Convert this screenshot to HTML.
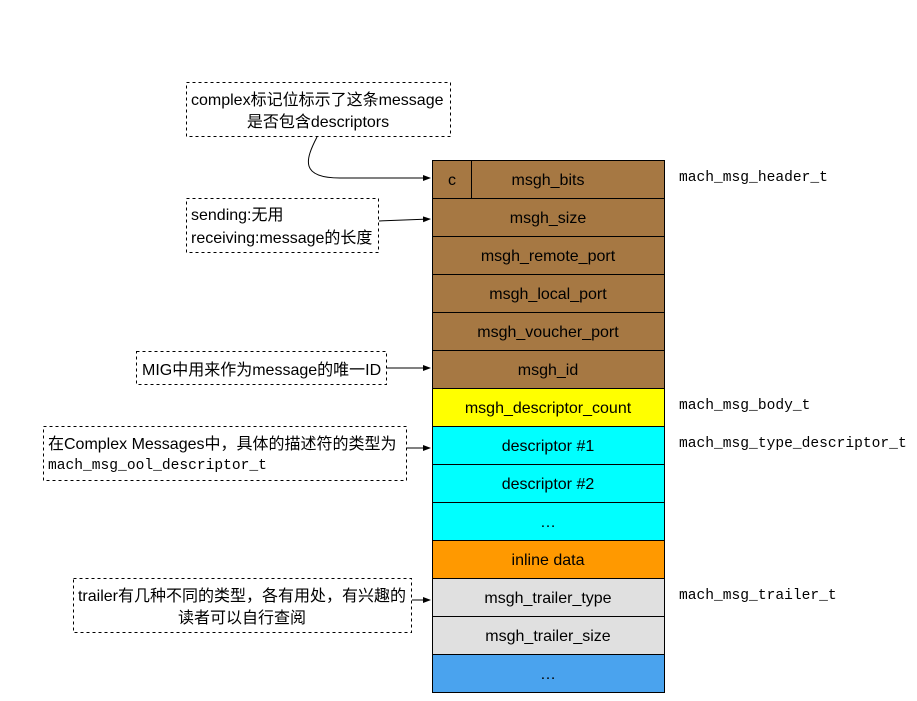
<!DOCTYPE html>
<html><head><meta charset="utf-8"><style>
body{margin:0;background:#fff}
svg text{font-family:"Liberation Sans","Noto Sans CJK SC",sans-serif;font-size:16px;fill:#000}
svg text.m{font-family:"Liberation Mono","DejaVu Sans Mono",monospace;font-size:14.6px}
</style></head><body>
<svg width="917" height="696" xmlns="http://www.w3.org/2000/svg">
<defs><marker id="a" markerWidth="8" markerHeight="8" refX="7" refY="4" orient="auto" markerUnits="userSpaceOnUse"><path d="M0,1 L8,4 L0,7 z" fill="#000"/></marker></defs>
<g stroke="#000" stroke-width="1">
<rect x="432.5" y="160.5" width="232" height="38" fill="#a67843"/>
<rect x="432.5" y="198.5" width="232" height="38" fill="#a67843"/>
<rect x="432.5" y="236.5" width="232" height="38" fill="#a67843"/>
<rect x="432.5" y="274.5" width="232" height="38" fill="#a67843"/>
<rect x="432.5" y="312.5" width="232" height="38" fill="#a67843"/>
<rect x="432.5" y="350.5" width="232" height="38" fill="#a67843"/>
<rect x="432.5" y="388.5" width="232" height="38" fill="#ffff00"/>
<rect x="432.5" y="426.5" width="232" height="38" fill="#00ffff"/>
<rect x="432.5" y="464.5" width="232" height="38" fill="#00ffff"/>
<rect x="432.5" y="502.5" width="232" height="38" fill="#00ffff"/>
<rect x="432.5" y="540.5" width="232" height="38" fill="#ff9900"/>
<rect x="432.5" y="578.5" width="232" height="38" fill="#e0e0e0"/>
<rect x="432.5" y="616.5" width="232" height="38" fill="#e0e0e0"/>
<rect x="432.5" y="654.5" width="232" height="38" fill="#4aa3ee"/>
<line x1="471.5" y1="160.5" x2="471.5" y2="198.5"/>
</g>
<g text-anchor="middle">
<text x="452" y="185">c</text>
<text x="548" y="185">msgh_bits</text>
<text x="548" y="223">msgh_size</text>
<text x="548" y="261">msgh_remote_port</text>
<text x="548" y="299">msgh_local_port</text>
<text x="548" y="337">msgh_voucher_port</text>
<text x="548" y="375">msgh_id</text>
<text x="548" y="413">msgh_descriptor_count</text>
<text x="548" y="451">descriptor #1</text>
<text x="548" y="489">descriptor #2</text>
<text x="548" y="527">…</text>
<text x="548" y="565">inline data</text>
<text x="548" y="603">msgh_trailer_type</text>
<text x="548" y="641">msgh_trailer_size</text>
<text x="548" y="679">…</text>
</g>
<text class="m" x="679" y="181">mach_msg_header_t</text>
<text class="m" x="679" y="409">mach_msg_body_t</text>
<text class="m" x="679" y="447">mach_msg_type_descriptor_t</text>
<text class="m" x="679" y="599">mach_msg_trailer_t</text>
<g fill="none" stroke="#000" stroke-dasharray="3,3">
<rect x="186.5" y="82.5" width="264" height="54"/>
<rect x="186.5" y="198.5" width="192" height="54"/>
<rect x="136.5" y="351.5" width="250" height="33"/>
<rect x="43.5" y="426.5" width="363" height="54"/>
<rect x="73.5" y="578.5" width="338" height="54"/>
</g>
<g fill="none" stroke="#000">
<path d="M317,137 C305,160 300,178 340,178 L430,178" marker-end="url(#a)"/>
<line x1="379" y1="221" x2="430" y2="219" marker-end="url(#a)"/>
<line x1="387" y1="368" x2="430" y2="368" marker-end="url(#a)"/>
<line x1="407" y1="448" x2="430" y2="448" marker-end="url(#a)"/>
<line x1="412" y1="600" x2="430" y2="600" marker-end="url(#a)"/>
</g>
<text x="191" y="105">complex标记位标示了这条message</text>
<text x="318" y="127" text-anchor="middle">是否包含descriptors</text>
<text x="191" y="220">sending:无用</text>
<text x="191" y="243">receiving:message的长度</text>
<text x="142" y="375">MIG中用来作为message的唯一ID</text>
<text x="48" y="449">在Complex Messages中，具体的描述符的类型为</text>
<text class="m" x="48" y="469">mach_msg_ool_descriptor_t</text>
<text x="242" y="601" text-anchor="middle">trailer有几种不同的类型，各有用处，有兴趣的</text>
<text x="242" y="623" text-anchor="middle">读者可以自行查阅</text>
</svg>
</body></html>
